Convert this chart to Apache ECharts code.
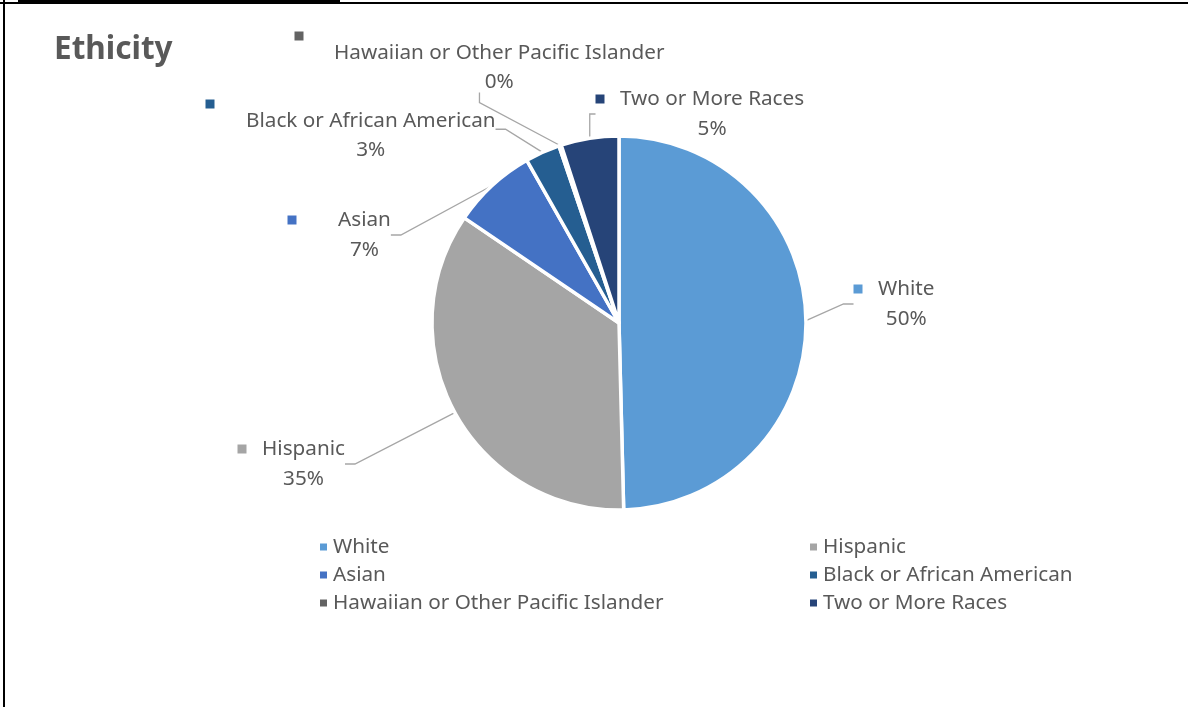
<!DOCTYPE html>
<html>
<head>
<meta charset="utf-8">
<script src="https://cdn.jsdelivr.net/npm/echarts@6/dist/echarts.min.js"></script>
<style>
html,body{margin:0;padding:0;background:#fff;}
#chart{width:1188px;height:707px;}
</style>
</head>
<body>
<div id="chart"></div>
<script>
var titleText = 'Ethicity';
var categories = ['White', 'Hispanic', 'Asian', 'Black or African American', 'Hawaiian or Other Pacific Islander', 'Two or More Races'];
var values = [49.6, 34.9, 7.3, 3.0, 0.2, 5.0];
var percentLabels = ['50%', '35%', '7%', '3%', '0%', '5%'];
var colors = ['#5B9BD5', '#A5A5A5', '#4472C4', '#255E91', '#636363', '#264478'];
var legendLeft = ['White', 'Asian', 'Hawaiian or Other Pacific Islander'];
var legendRight = ['Hispanic', 'Black or African American', 'Two or More Races'];

var FONT = '"Noto Sans", sans-serif';
var TXT = '#595959';
var FS = 20.7;

// label placement (top-left of label box), key gap, key-above flag
var labelPlace = [
  {x: 853.5, y: 274, gap: 24.5, above: false},
  {x: 237.5, y: 434, gap: 24.5, above: false},
  {x: 287.5, y: 205, gap: 50.5, above: false},
  {x: 205.5, y: 99,  gap: 40.5, above: true},
  {x: 294.5, y: 31,  gap: 39.5, above: true},
  {x: 595.5, y: 84,  gap: 24.5, above: false}
];

var data = categories.map(function (c, i) {
  var p = labelPlace[i];
  var rich = {
    n: {fontFamily: FONT, fontSize: FS, color: TXT, lineHeight: p.above ? 24 : 30},
    p: {fontFamily: FONT, fontSize: FS, color: TXT, lineHeight: p.above ? 34 : 30},
    k: {width: 9, height: 9, backgroundColor: colors[i]},
    ka: {width: 9, height: 9, backgroundColor: colors[i], align: 'left', lineHeight: 10},
    g: {width: p.gap - 9, height: 9},
    g0: {width: p.gap, height: 9}
  };
  var fmt = p.above
    ? '{ka|}\n{g0|}{n|' + c + '}\n{g0|}{p|' + percentLabels[i] + '}'
    : '{k|}{g|}{n|' + c + '}\n{g0|}{p|' + percentLabels[i] + '}';
  return {
    name: c,
    value: values[i],
    itemStyle: {color: colors[i]},
    label: {formatter: fmt, rich: rich, align: 'center'}
  };
});

var legendText = {fontFamily: FONT, fontSize: FS, color: TXT, lineHeight: 22};

var chart = echarts.init(document.getElementById('chart'));
chart.setOption({
  animation: false,
  color: colors,
  title: {
    text: titleText,
    left: 49,
    top: 29,
    textStyle: {fontFamily: FONT, fontSize: 31.5, fontWeight: 'bold', color: TXT}
  },
  legend: [
    {
      data: legendLeft, orient: 'vertical', left: 318, top: 536, padding: 0,
      icon: 'rect', itemWidth: 9, itemHeight: 9, itemGap: 6, textStyle: legendText
    },
    {
      data: legendRight, orient: 'vertical', left: 808, top: 536, padding: 0,
      icon: 'rect', itemWidth: 9, itemHeight: 9, itemGap: 6, textStyle: legendText
    }
  ],
  graphic: [
    {type: 'rect', shape: {x: 0, y: 2, width: 1188, height: 2}, style: {fill: '#000'}, silent: true},
    {type: 'rect', shape: {x: 18, y: 0, width: 322, height: 3}, style: {fill: '#000'}, silent: true},
    {type: 'rect', shape: {x: 3, y: 0, width: 2, height: 707}, style: {fill: '#000'}, silent: true}
  ],
  series: [{
    type: 'pie',
    center: [619, 323],
    radius: 187,
    startAngle: 90,
    clockwise: true,
    minAngle: 0,
    avoidLabelOverlap: false,
    itemStyle: {borderColor: '#fff', borderWidth: 3.5},
    label: {show: true, position: 'outside'},
    labelLine: {show: true, length: 12, length2: 10, lineStyle: {color: '#A6A6A6', width: 1.3}},
    labelLayout: function (params) {
      var p = labelPlace[params.dataIndex];
      return {x: p.x + params.labelRect.width / 2, y: p.y, align: 'center', verticalAlign: 'top'};
    },
    emphasis: {disabled: true},
    data: data
  }]
});
</script>
</body>
</html>
